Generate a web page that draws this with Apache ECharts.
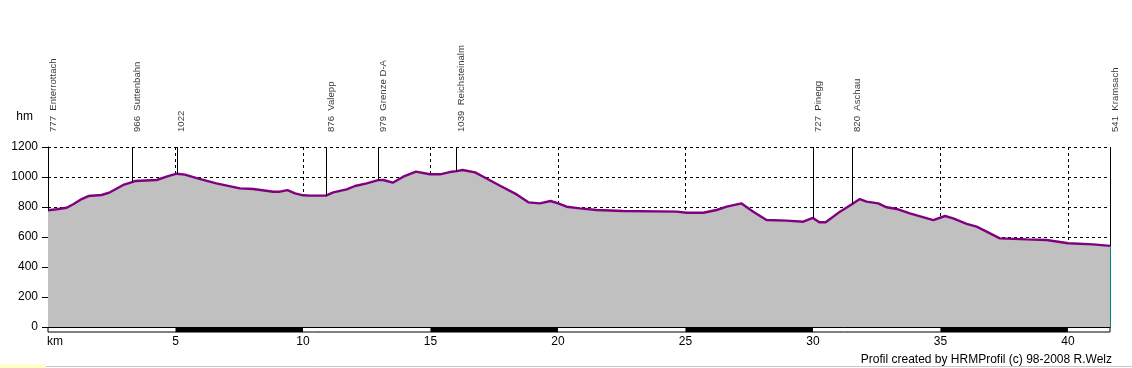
<!DOCTYPE html>
<html><head><meta charset="utf-8">
<script src="https://cdn.jsdelivr.net/npm/echarts@6/dist/echarts.min.js"></script>
<style>html,body{margin:0;padding:0;background:#fff}#c{width:1132px;height:368px}</style>
</head><body><div id="c"></div>
<script>
// Elevation profile (km, metres)
const profileKm = [0, 0.34, 0.73, 0.99, 1.32, 1.58, 2.1, 2.43, 2.95, 3.3, 3.41, 4.26, 4.65, 5.05, 5.37, 5.83, 6.6, 7.53, 8.05, 8.84, 9.1, 9.39, 9.69, 10.01, 10.27, 10.9, 11.19, 11.71, 12.04, 12.5, 12.95, 13.15, 13.52, 13.93, 14.43, 14.98, 15.37, 15.76, 16.03, 16.26, 16.75, 17.07, 17.73, 18.38, 18.84, 19.29, 19.71, 20.01, 20.34, 20.86, 21.52, 22.56, 24.65, 25.05, 25.7, 26.22, 26.62, 27.2, 27.66, 28.18, 28.97, 29.62, 30.0, 30.25, 30.5, 31.06, 31.54, 31.84, 32.1, 32.56, 32.89, 33.28, 33.8, 34.72, 35.18, 35.5, 36.03, 36.42, 36.81, 37.33, 38.38, 39.16, 40.01, 40.99, 41.65];
const profileElev = [778, 785, 795, 818, 853, 873, 880, 898, 947, 966, 973, 980, 1002, 1022, 1016, 993, 958, 924, 920, 902, 902, 913, 891, 878, 876, 876, 898, 918, 940, 958, 979, 980, 962, 1002, 1036, 1018, 1018, 1033, 1039, 1047, 1031, 1002, 942, 884, 831, 824, 840, 824, 802, 791, 780, 773, 769, 762, 762, 780, 802, 824, 769, 713, 709, 702, 727, 698, 698, 769, 820, 853, 836, 824, 798, 787, 758, 713, 740, 724, 687, 669, 636, 591, 584, 580, 558, 551, 541];
// Waypoints
const wayKm = [0, 3.3, 5.05, 10.9, 12.95, 16.03, 30.0, 31.54, 41.65];
const wayElev = [777, 966, 1022, 876, 979, 1039, 727, 820, 541];
const wayName = ['Enterrottach', 'Suttenbahn', '', 'Valepp', 'Grenze D-A', 'Reichsteinalm', 'Pinegg', 'Aschau', 'Kramsach'];
// Distance scale strip (black segments, km)
const stripStart = [5, 15, 25, 35];
const stripEnd = [10, 20, 30, 40];
const footer = 'Profil created by HRMProfil (c) 98-2008 R.Welz';

const kmMax = profileKm[profileKm.length - 1];
const lastElev = profileElev[profileElev.length - 1];
const chart = echarts.init(document.getElementById('c'), null, {renderer: 'canvas'});
const txtFont = 'Liberation Sans, Arial, sans-serif';

chart.setOption({
  animation: false,
  backgroundColor: '#fff',
  title: {
    text: footer, right: 20, top: 354, padding: 0,
    textStyle: {fontSize: 12, fontWeight: 'normal', color: '#000', fontFamily: txtFont}
  },
  grid: [
    {left: 48, right: 22, top: 147, bottom: 41},
    {left: 48, right: 22, top: 327, height: 5, show: true, backgroundColor: '#fff', borderColor: '#000', borderWidth: 1}
  ],
  xAxis: [
    {
      type: 'value', min: 0, max: kmMax, interval: 5, gridIndex: 0,
      axisLine: {show: true, onZero: false, lineStyle: {color: '#000', width: 1}},
      axisTick: {show: false},
      splitLine: {show: true, lineStyle: {color: '#000', type: [3, 3], width: 1}},
      axisLabel: {
        show: true, margin: 9, color: '#000', fontSize: 12, fontFamily: txtFont,
        showMaxLabel: false, showMinLabel: true,
        formatter: v => v === 0 ? '{km|km}' : String(v),
        rich: {km: {padding: [0, 0, 0, 14], fontSize: 12, fontFamily: txtFont, color: '#000'}}
      }
    },
    {type: 'value', min: 0, max: kmMax, gridIndex: 1, show: false}
  ],
  yAxis: [
    {
      type: 'value', min: 0, max: 1200, interval: 200, gridIndex: 0,
      name: 'hm', nameLocation: 'end', nameGap: 30,
      nameTextStyle: {color: '#000', fontSize: 12, fontFamily: txtFont, align: 'right', verticalAlign: 'middle', padding: [0, 15, 0, 0]},
      axisLine: {show: true, lineStyle: {color: '#000', width: 1}},
      axisTick: {show: true, length: 6, lineStyle: {color: '#000'}},
      splitLine: {show: true, lineStyle: {color: '#000', type: [3, 3], width: 1}},
      axisLabel: {margin: 10, color: '#000', fontSize: 12, fontFamily: txtFont, formatter: v => String(v)}
    },
    {type: 'value', min: 0, max: 1, gridIndex: 1, show: false}
  ],
  series: [
    {
      type: 'line', xAxisIndex: 0, yAxisIndex: 0, z: 2,
      data: profileKm.map((k, i) => [k, profileElev[i]]),
      showSymbol: false, symbol: 'none', smooth: false,
      lineStyle: {color: '#800080', width: 2.4},
      areaStyle: {color: '#c0c0c0', opacity: 1},
      markLine: {
        silent: true, symbol: ['none', 'none'], animation: false,
        label: {show: false},
        lineStyle: {color: '#000', width: 1, type: 'solid'},
        data: wayKm.map((k, i) => [{coord: [k, wayElev[i]]}, {coord: [k, 1200]}]).concat([
          [{coord: [kmMax, 0], lineStyle: {color: '#008080'}}, {coord: [kmMax, lastElev]}]
        ])
      }
    },
    {
      type: 'scatter', xAxisIndex: 0, yAxisIndex: 0, z: 5, clip: false,
      symbolSize: 0, silent: true,
      data: wayKm.map((k, i) => [k, 1200]),
      label: {
        show: true, position: 'top', distance: 15, rotate: 90,
        align: 'left', verticalAlign: 'top',
        color: '#000', fontSize: 9.6, fontFamily: txtFont,
        formatter: p => String(wayElev[p.dataIndex]) + (wayName[p.dataIndex] ? '  ' + wayName[p.dataIndex] : '')
      }
    },
    {
      type: 'custom', xAxisIndex: 1, yAxisIndex: 1, z: 3,
      data: stripStart.map((s, i) => [s, stripEnd[i]]),
      renderItem: (params, api) => {
        const a = api.coord([api.value(0), 1]);
        const b = api.coord([api.value(1), 0]);
        return {type: 'rect', shape: {x: a[0], y: a[1], width: b[0] - a[0], height: b[1] - a[1]}, style: {fill: '#000'}};
      }
    }
  ],
  graphic: [
    {type: 'rect', left: 0, top: 364, shape: {width: 46, height: 4}, style: {fill: '#ffffc8'}, silent: true},
    {type: 'line', shape: {x1: 46, y1: 366.5, x2: 1132, y2: 366.5}, style: {stroke: '#c8c8c8', lineWidth: 1}, silent: true}
  ]
});
</script>
</body></html>
